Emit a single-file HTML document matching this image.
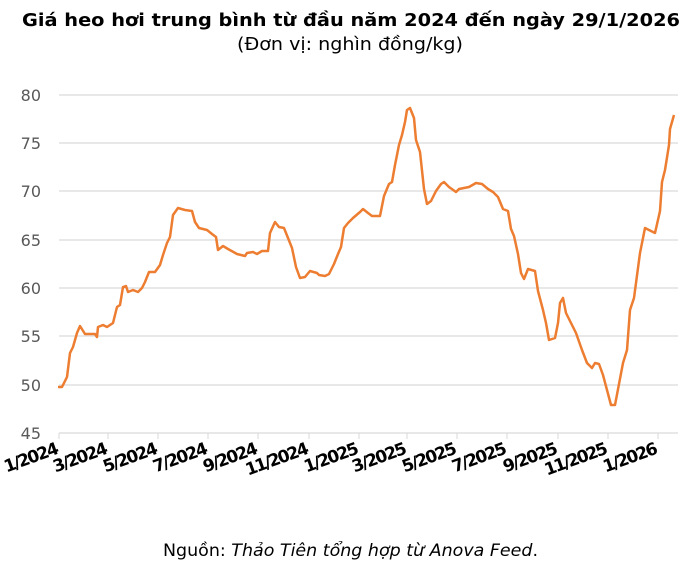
<!DOCTYPE html>
<html><head><meta charset="utf-8"><style>
html,body{margin:0;padding:0;background:#fff;}
body{width:700px;height:575px;overflow:hidden;font-family:"DejaVu Sans",sans-serif;}
</style></head><body>
<svg width="700" height="575" viewBox="0 0 700 575" xmlns="http://www.w3.org/2000/svg" font-family="DejaVu Sans, Liberation Sans, sans-serif">
<text x="22" y="26" font-size="18" font-weight="bold" fill="#000" textLength="658" lengthAdjust="spacingAndGlyphs">Giá heo hơi trung bình từ đầu năm 2024 đến ngày 29/1/2026</text>
<text x="237" y="50" font-size="18" fill="#000" textLength="226" lengthAdjust="spacingAndGlyphs">(Đơn vị: nghìn đồng/kg)</text>
<g stroke="#d9d9d9" stroke-width="1.2">
<line x1="59" x2="678" y1="95" y2="95"/><line x1="59" x2="678" y1="143" y2="143"/>
<line x1="59" x2="678" y1="191" y2="191"/><line x1="59" x2="678" y1="240" y2="240"/>
<line x1="59" x2="678" y1="288" y2="288"/><line x1="59" x2="678" y1="336" y2="336"/>
<line x1="59" x2="678" y1="385" y2="385"/><line x1="59" x2="678" y1="433" y2="433"/>
</g>
<g stroke="#d9d9d9" stroke-width="1">
<line x1="59" x2="59" y1="433" y2="439"/><line x1="108" x2="108" y1="433" y2="439"/><line x1="158" x2="158" y1="433" y2="439"/><line x1="208" x2="208" y1="433" y2="439"/><line x1="258" x2="258" y1="433" y2="439"/><line x1="309" x2="309" y1="433" y2="439"/><line x1="359" x2="359" y1="433" y2="439"/><line x1="407" x2="407" y1="433" y2="439"/><line x1="457" x2="457" y1="433" y2="439"/><line x1="507" x2="507" y1="433" y2="439"/><line x1="558" x2="558" y1="433" y2="439"/><line x1="608" x2="608" y1="433" y2="439"/><line x1="658" x2="658" y1="433" y2="439"/>
</g>
<g font-size="16" fill="#595959" text-anchor="end">
<text x="41" y="101">80</text><text x="41" y="149">75</text><text x="41" y="197">70</text><text x="41" y="246">65</text><text x="41" y="294">60</text><text x="41" y="342">55</text><text x="41" y="391">50</text><text x="41" y="439">45</text>
</g>
<g font-size="17" font-weight="bold" fill="#000" text-anchor="end" lengthAdjust="spacingAndGlyphs">
<text transform="translate(60,453) rotate(-20)" textLength="57">1/2024</text>
<text transform="translate(109,453) rotate(-20)" textLength="57">3/2024</text>
<text transform="translate(159,453) rotate(-20)" textLength="57">5/2024</text>
<text transform="translate(209,453) rotate(-20)" textLength="57">7/2024</text>
<text transform="translate(259,453) rotate(-20)" textLength="57">9/2024</text>
<text transform="translate(310,453) rotate(-20)" textLength="66">11/2024</text>
<text transform="translate(360,453) rotate(-20)" textLength="57">1/2025</text>
<text transform="translate(408,453) rotate(-20)" textLength="57">3/2025</text>
<text transform="translate(458,453) rotate(-20)" textLength="57">5/2025</text>
<text transform="translate(508,453) rotate(-20)" textLength="57">7/2025</text>
<text transform="translate(559,453) rotate(-20)" textLength="57">9/2025</text>
<text transform="translate(609,453) rotate(-20)" textLength="66">11/2025</text>
<text transform="translate(659,453) rotate(-20)" textLength="57">1/2026</text>
</g>
<polyline fill="none" stroke="#ed7d31" stroke-width="2.5" stroke-linejoin="round" points="58,387 62,387 67,377 70,353 73,347 77,333 80,326 85,334 95,334 97,337 98,327 103,325 107,327 113,323 117,307 120,305 123,287 126,286 128,292 133,290 138,292 142,288 145,282 149,272 155,272 160,265 163,255 167,243 170,237 173,215 178,208 185,210 192,211 195,222 199,228 207,230 212,234 216,237 218,250 223,246 228,249 237,254 245,256 247,253 253,252 257,254 262,251 268,251 270,233 275,222 279,227 284,228 292,248 296,267 300,278 305,277 310,271 317,273 319,275 325,276 329,274 334,264 338,254 341,247 344,228 348,223 353,218 360,212 363,209 368,213 372,216 380,216 384,196 389,184 392,182 395,165 399,145 402,135 405,122 407,110 410,108 414,118 416,140 420,152 424,189 427,204 431,201 436,191 441,184 444,182 449,187 456,192 459,189 469,187 476,183 482,184 488,189 493,192 498,197 503,209 508,211 511,229 514,236 518,254 521,273 524,279 528,269 535,271 538,291 543,310 546,323 549,340 555,338 558,323 560,303 563,298 566,313 571,323 576,333 582,350 587,363 592,368 595,363 599,364 603,375 607,390 611,405 615,405 619,384 623,363 627,350 630,310 634,298 636,283 640,253 645,228 655,233 660,211 662,182 665,170 669,145 670,129 674,115"/>
<text x="163" y="556" font-size="17" fill="#000" textLength="375" lengthAdjust="spacingAndGlyphs">Nguồn: <tspan font-style="italic">Thảo Tiên tổng hợp từ Anova Feed</tspan>.</text>
</svg>
</body></html>
